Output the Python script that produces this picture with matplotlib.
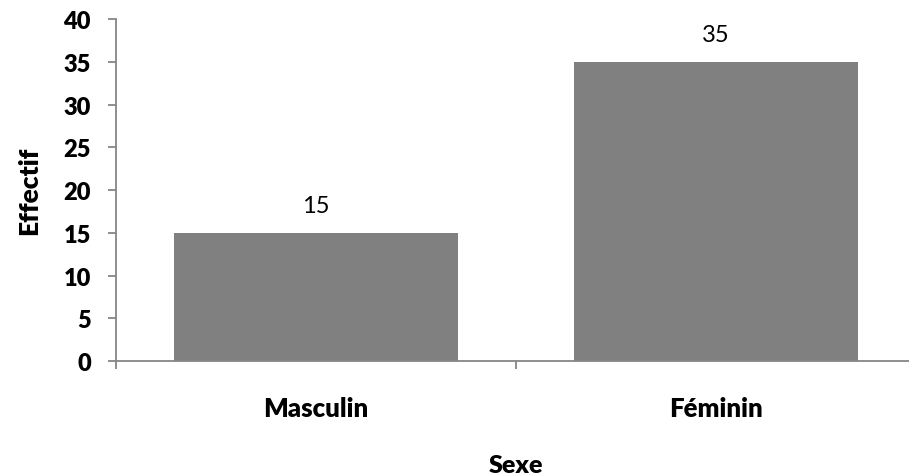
import matplotlib.pyplot as plt
import numpy as np

sexe = ["Masculin", "Féminin"]
effectif = [15, 35]

plt.rcParams['font.family'] = ['Lato', 'DejaVu Sans']
gris = "#868686"

fig = plt.figure(figsize=(9.09, 4.77), dpi=100)
# axe qui deborde un peu a droite comme dans l'original
ax = fig.add_axes([116/909, 1-362/477, 800/909, 342/477])

x = np.arange(len(sexe))
barres = ax.bar(x, effectif, width=0.71, color="#808080")
for b, v in zip(barres, effectif):
	ax.text(b.get_x()+b.get_width()/2, v+2.0, str(v), ha="center", va="bottom", fontsize=17)

ax.set_xlim(-0.5, 1.5)
ax.set_ylim(0, 40)
ax.set_yticks(range(0, 41, 5))
ax.set_yticklabels([str(v) for v in range(0, 41, 5)], fontsize=17, fontweight="heavy")
ax.set_xticks([-0.5, 0.5, 1.5])
ax.set_xticklabels([])
ax.set_xticks(x, minor=True)
ax.set_xticklabels(sexe, minor=True, fontsize=18.5, fontweight="heavy")
ax.tick_params(axis="x", which="minor", length=0, pad=25)
ax.tick_params(axis="x", which="major", length=6, width=1.3, color=gris)
ax.tick_params(axis="y", length=6, width=1.3, color=gris, pad=12)

for s in ["top", "right"]:
	ax.spines[s].set_visible(False)
for s in ["left", "bottom"]:
	ax.spines[s].set_color(gris)
	ax.spines[s].set_linewidth(1.3)

ax.set_ylabel("Effectif", fontsize=19, fontweight="heavy", labelpad=16)
ax.set_xlabel("Sexe", fontsize=18, fontweight="heavy", labelpad=25)

fig.savefig("out.png", dpi=100)
